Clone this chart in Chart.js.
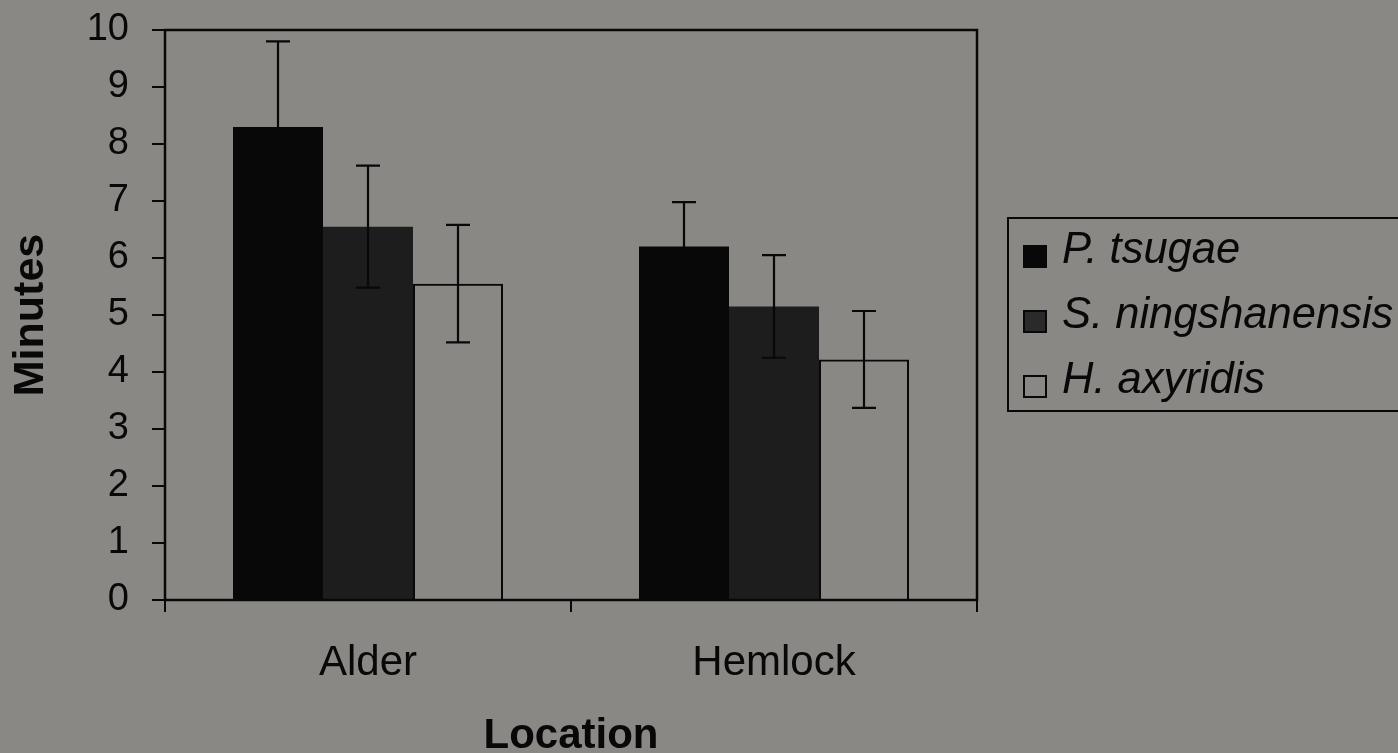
<!DOCTYPE html>
<html>
<head>
<meta charset="utf-8">
<script src="https://cdn.jsdelivr.net/npm/chart.js@4.4.1/dist/chart.umd.min.js"></script>
<style>
  html, body { margin: 0; padding: 0; background: #8a8884; }
  canvas { display: block; }
</style>
</head>
<body>
<canvas id="c" width="1398" height="753"></canvas>
<script>
// Time spent (minutes) by each predator species, per location, mean ± error
const categories = ['Alder', 'Hemlock'];
const seriesNames = ['P. tsugae', 'S. ningshanensis', 'H. axyridis'];
const pTsugae = [8.3, 6.2];
const pTsugaeErr = [1.5, 0.78];
const sNingshanensis = [6.55, 5.15];
const sNingshanensisErr = [1.07, 0.9];
const hAxyridis = [5.55, 4.22];
const hAxyridisErr = [1.03, 0.85];
const yTickValues = [0, 1, 2, 3, 4, 5, 6, 7, 8, 9, 10];

const INK = '#080808';
const FONT = '"Liberation Sans", Arial, sans-serif';

// Whiskers: vertical line with caps, from value - err to value + err
const errorBars = {
  id: 'errorBars',
  afterDatasetsDraw(chart) {
    const ctx = chart.ctx;
    const y = chart.scales.y;
    chart.data.datasets.forEach((ds, i) => {
      const meta = chart.getDatasetMeta(i);
      meta.data.forEach((bar, j) => {
        const v = ds.data[j], e = ds.errors[j];
        const yt = y.getPixelForValue(v + e);
        const yb = y.getPixelForValue(v - e);
        const cx = Math.round(bar.x);
        ctx.save();
        ctx.strokeStyle = INK;
        ctx.lineWidth = 2.2;
        ctx.beginPath();
        ctx.moveTo(cx, yt); ctx.lineTo(cx, yb);
        ctx.moveTo(cx - 12, yt); ctx.lineTo(cx + 12, yt);
        ctx.moveTo(cx - 12, yb); ctx.lineTo(cx + 12, yb);
        ctx.stroke();
        ctx.restore();
      });
    });
  }
};

// Closed frame around the plotting area
const plotFrame = {
  id: 'plotFrame',
  afterDraw(chart) {
    const { ctx, chartArea: a } = chart;
    ctx.save();
    ctx.strokeStyle = INK;
    ctx.lineWidth = 2.5;
    ctx.strokeRect(a.left, a.top, a.right - a.left, a.bottom - a.top);
    ctx.restore();
  }
};

// Boxed legend to the right of the plot
const boxLegend = {
  id: 'boxLegend',
  afterDraw(chart) {
    const { ctx, chartArea: a } = chart;
    const left = a.right + 31, top = 218, bottom = 411;
    ctx.save();
    ctx.strokeStyle = INK;
    ctx.lineWidth = 2;
    ctx.strokeRect(left, top, chart.width + 10 - left, bottom - top);
    ctx.font = 'italic 43.5px ' + FONT;
    ctx.textBaseline = 'alphabetic';
    chart.data.datasets.forEach((ds, i) => {
      const base = 263 + i * 65;
      const sx = left + 16, sy = base - 17;
      if (ds.legendFill) {
        ctx.fillStyle = ds.legendFill;
        ctx.fillRect(sx, sy, 22, 21);
      }
      ctx.lineWidth = 2;
      ctx.strokeStyle = INK;
      ctx.strokeRect(sx, sy, 22, 21);
      ctx.fillStyle = INK;
      ctx.fillText(ds.label, left + 54, base);
    });
    ctx.restore();
  }
};

new Chart(document.getElementById('c'), {
  type: 'bar',
  data: {
    labels: categories,
    datasets: [
      { label: seriesNames[0], data: pTsugae, errors: pTsugaeErr,
        backgroundColor: INK, legendFill: INK, borderWidth: 0 },
      { label: seriesNames[1], data: sNingshanensis, errors: sNingshanensisErr,
        backgroundColor: '#1d1d1d', legendFill: '#2a2a2a', borderWidth: 0 },
      { label: seriesNames[2], data: hAxyridis, errors: hAxyridisErr,
        backgroundColor: 'rgba(0,0,0,0)', legendFill: null,
        borderColor: INK, borderWidth: 2 }
    ]
  },
  options: {
    responsive: false,
    animation: false,
    devicePixelRatio: 1,
    categoryPercentage: 0.665,
    barPercentage: 1,
    layout: { padding: { top: 30, right: 421, bottom: 0, left: 0 } },
    plugins: {
      legend: { display: false },
      tooltip: { enabled: false }
    },
    scales: {
      x: {
        offset: true,
        grid: { offset: true, drawOnChartArea: false, drawTicks: true, tickLength: 12,
                color: INK, lineWidth: 2 },
        border: { display: false },
        ticks: { color: INK, font: { family: FONT, size: 42 }, padding: 26 },
        title: { display: true, text: 'Location', color: INK,
                 font: { family: FONT, size: 42, weight: 'bold', lineHeight: 0.78 },
                 padding: { top: 0, bottom: 0 } },
        afterFit(scale) { scale.height = 153; }
      },
      y: {
        min: 0, max: 10,
        afterBuildTicks(scale) { scale.ticks = yTickValues.map(v => ({ value: v })); },
        grid: { drawOnChartArea: false, drawTicks: true, tickLength: 13,
                color: INK, lineWidth: 2 },
        border: { display: false },
        ticks: { color: INK, font: { family: FONT, size: 38, lineHeight: 0.3 }, padding: 23 },
        title: { display: true, text: 'Minutes', color: INK,
                 font: { family: FONT, size: 43, weight: 'bold', lineHeight: 1 },
                 padding: { top: 10, bottom: 0 } },
        afterFit(scale) { scale.width = 165; }
      }
    }
  },
  plugins: [errorBars, plotFrame, boxLegend]
});
</script>
</body>
</html>
